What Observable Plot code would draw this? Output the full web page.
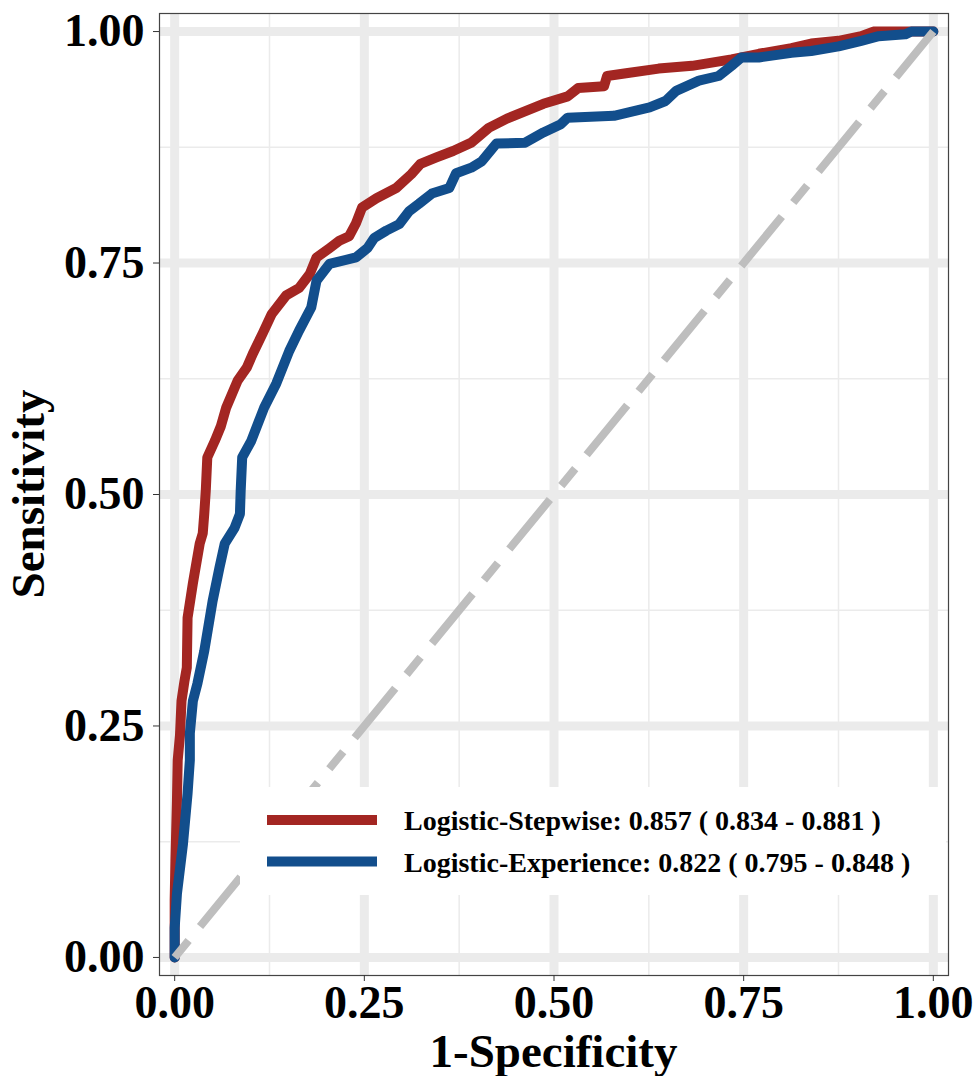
<!DOCTYPE html>
<html><head><meta charset="utf-8">
<script src="https://cdn.jsdelivr.net/npm/d3@7"></script>
<script src="https://cdn.jsdelivr.net/npm/@observablehq/plot@0.6"></script>
<style>html,body{margin:0;padding:0;background:#fff;overflow:hidden}</style>
</head><body><div id="chart"></div>
<script>
// Logistic-Stepwise ROC (1-specificity, sensitivity)
const stepwiseFpr = [0,0,0.001,0.003,0.004,0.007,0.009,0.013,0.016,0.017,0.024,0.033,0.037,0.039,0.041,0.043,0.053,0.061,0.068,0.083,0.095,0.103,0.116,0.128,0.147,0.164,0.178,0.187,0.204,0.217,0.230,0.239,0.247,0.266,0.292,0.312,0.324,0.345,0.367,0.391,0.414,0.438,0.486,0.518,0.532,0.566,0.570,0.595,0.638,0.682,0.734,0.770,0.813,0.839,0.875,0.905,0.921,1];
const stepwiseTpr = [0,0.062,0.104,0.169,0.213,0.240,0.277,0.299,0.313,0.367,0.404,0.447,0.458,0.479,0.504,0.540,0.558,0.574,0.594,0.623,0.637,0.652,0.674,0.695,0.715,0.723,0.738,0.756,0.766,0.774,0.779,0.793,0.810,0.820,0.831,0.846,0.857,0.864,0.871,0.880,0.896,0.906,0.922,0.930,0.939,0.941,0.952,0.955,0.960,0.963,0.970,0.976,0.982,0.987,0.990,0.995,1,1];
// Logistic-Experience ROC
const experienceFpr = [0,0,0.003,0.011,0.017,0.020,0.020,0.024,0.030,0.039,0.050,0.059,0.066,0.079,0.086,0.087,0.089,0.101,0.118,0.134,0.151,0.164,0.180,0.187,0.204,0.239,0.254,0.263,0.279,0.296,0.309,0.322,0.339,0.362,0.371,0.391,0.405,0.424,0.462,0.486,0.509,0.518,0.579,0.626,0.647,0.661,0.691,0.717,0.734,0.747,0.770,0.813,0.839,0.875,0.905,0.928,0.963,0.971,1];
const experienceTpr = [0,0.032,0.069,0.123,0.177,0.213,0.242,0.277,0.296,0.331,0.385,0.421,0.447,0.464,0.479,0.504,0.540,0.558,0.594,0.620,0.655,0.677,0.702,0.731,0.749,0.756,0.766,0.777,0.785,0.792,0.806,0.814,0.825,0.831,0.847,0.853,0.860,0.879,0.880,0.891,0.900,0.907,0.909,0.918,0.925,0.936,0.947,0.952,0.963,0.972,0.972,0.977,0.979,0.984,0.990,0.995,0.997,1,1];

const majorTicks = [0, 0.25, 0.5, 0.75, 1];
const minorTicks = [0.125, 0.375, 0.625, 0.875];
const diagonalX = [0, 1];
const diagonalY = [0, 1];
const seriesNames = ["Logistic-Stepwise: 0.857 ( 0.834 - 0.881 )", "Logistic-Experience: 0.822 ( 0.795 - 0.848 )"];
const seriesColors = ["#A32622", "#124E8C"];
const xTitle = "1-Specificity";
const yTitle = "Sensitivity";

const stepwise = stepwiseFpr.map((x, i) => ({x, y: stepwiseTpr[i]}));
const experience = experienceFpr.map((x, i) => ({x, y: experienceTpr[i]}));
const diagonal = diagonalX.map((x, i) => ({x, y: diagonalY[i]}));

const font = "'Liberation Serif', 'Times New Roman', serif";
const W = 975, H = 1076, mL = 159, mR = 27, mT = 13, mB = 101;

const plot = Plot.plot({
  width: W, height: H,
  marginLeft: mL, marginRight: mR, marginTop: mT, marginBottom: mB,
  x: {domain: [-0.02, 1.02]},
  y: {domain: [-0.0195, 1.0195]},
  style: {fontFamily: font, fontWeight: "bold", background: "white", color: "black"},
  marks: [
    Plot.ruleX(minorTicks, {stroke: "#EBEBEB", strokeWidth: 1.5}),
    Plot.ruleY(minorTicks, {stroke: "#EBEBEB", strokeWidth: 1.5}),
    Plot.ruleX(majorTicks, {stroke: "#EBEBEB", strokeWidth: 9}),
    Plot.ruleY(majorTicks, {stroke: "#EBEBEB", strokeWidth: 9}),
    Plot.line(stepwise, {x: "x", y: "y", stroke: seriesColors[0], strokeWidth: 10}),
    Plot.line(experience, {x: "x", y: "y", stroke: seriesColors[1], strokeWidth: 10}),
    Plot.line(diagonal, {x: "x", y: "y", stroke: "#BEBEBE", strokeWidth: 8, strokeDasharray: "22,18,64,18", strokeLinecap: "butt"}),
    Plot.frame({stroke: "#444", strokeWidth: 1.2}),
    Plot.axisX({ticks: majorTicks, tickFormat: d3.format(".2f"), tickSize: 6, tickPadding: 4, fontSize: 46, fontWeight: "bold", label: null, stroke: "#333", fill: "black"}),
    Plot.axisY({ticks: majorTicks, tickFormat: d3.format(".2f"), tickSize: 6, tickPadding: 9, fontSize: 46, fontWeight: "bold", label: null, stroke: "#333", fill: "black"})
  ]
});
document.getElementById("chart").appendChild(plot);

const svg = d3.select(plot);
// axis titles
svg.append("text").attr("x", (mL + W - mR) / 2).attr("y", 1067)
  .attr("text-anchor", "middle").attr("font-family", font).attr("font-weight", "bold")
  .attr("font-size", 47).attr("fill", "black").text(xTitle);
svg.append("text").attr("transform", `translate(44,${(mT + H - mB) / 2}) rotate(-90)`)
  .attr("text-anchor", "middle").attr("font-family", font).attr("font-weight", "bold")
  .attr("font-size", 47).attr("fill", "black").text(yTitle);

// legend
const lg = svg.append("g").attr("text-anchor", "start");
lg.append("rect").attr("x", 240).attr("y", 787).attr("width", 706).attr("height", 108).attr("fill", "white");
seriesNames.forEach((name, i) => {
  const cy = 820 + i * 41.5;
  lg.append("line").attr("x1", 267).attr("x2", 377).attr("y1", cy).attr("y2", cy)
    .attr("stroke", seriesColors[i]).attr("stroke-width", 10);
  lg.append("text").attr("x", 404).attr("y", cy + 10).attr("text-anchor", "start")
    .attr("font-family", font).attr("font-weight", "bold").attr("font-size", 28)
    .attr("fill", "black").text(name);
});
</script></body></html>
